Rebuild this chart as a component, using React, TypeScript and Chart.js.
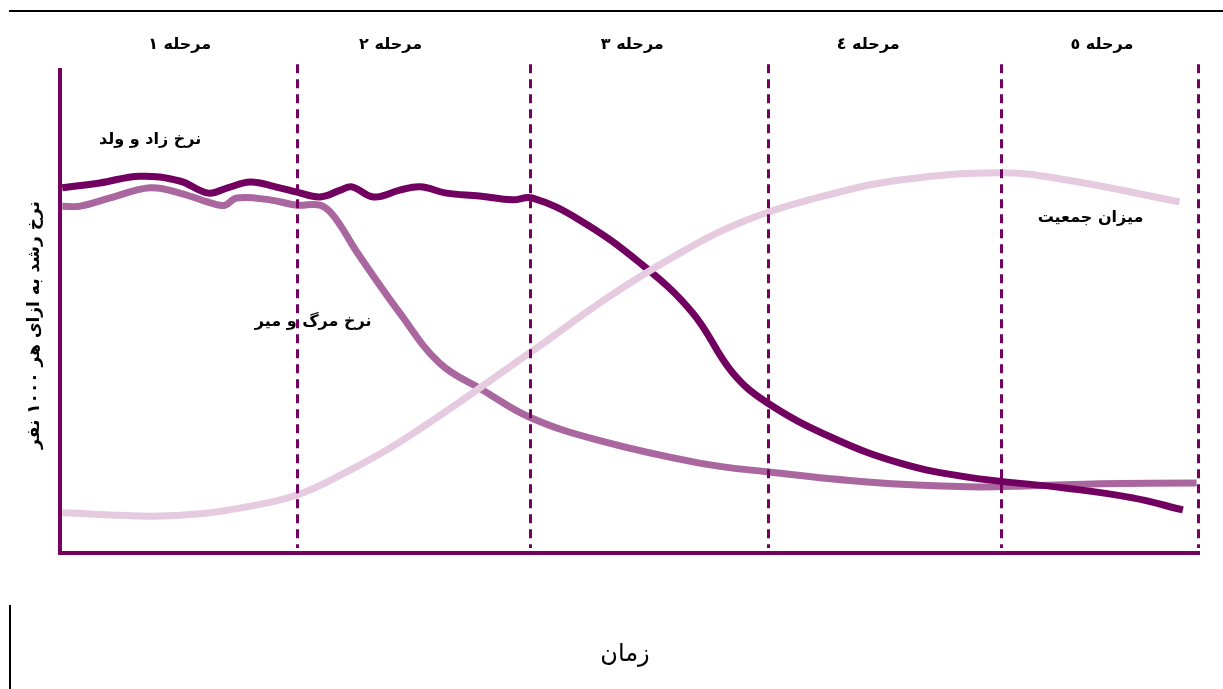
import React, { useEffect, useRef } from "react";
import { Chart, registerables } from "chart.js";

Chart.register(...registerables);

// ---- data (time 0..100, rate 0..100) ----
const birthX = [0.2, 3.5, 7.0, 10.5, 13.0, 14.7, 16.7, 18.9, 20.8, 22.8, 24.6, 25.6, 27.5, 29.8, 31.6, 33.9, 36.8, 39.7, 41.4, 45.6, 50.9, 55.5, 59.0, 62.1, 67.8, 73.7, 79.6, 88.3, 94.1, 98.5];
const birthY = [75.2, 76.2, 77.6, 76.6, 74.1, 75.2, 76.4, 75.4, 74.3, 73.3, 74.7, 75.4, 73.3, 74.7, 75.4, 74.1, 73.5, 72.7, 73.1, 68.5, 59.6, 49.3, 36.9, 30.6, 23.4, 18.2, 15.3, 13.0, 11.0, 8.5];

const deathX = [0.2, 1.8, 4.4, 7.9, 10.5, 13.6, 14.5, 15.5, 18.4, 20.8, 22.8, 24.0, 26.1, 29.8, 33.3, 37.1, 41.2, 47.1, 56.1, 62.0, 70.8, 79.6, 85.4, 91.2, 99.7];
const deathY = [71.4, 71.4, 73.1, 75.2, 74.1, 71.8, 71.6, 73.1, 72.7, 71.6, 71.6, 69.4, 61.7, 49.3, 38.9, 33.3, 27.7, 23.0, 18.2, 16.4, 14.3, 13.3, 13.5, 13.9, 14.1];

const popX = [0.2, 7.9, 12.3, 16.7, 20.8, 24.6, 30.1, 41.2, 48.0, 53.8, 59.6, 66.7, 73.7, 82.5, 88.3, 98.2];
const popY = [7.9, 7.2, 7.7, 9.3, 11.6, 15.7, 23.0, 41.0, 52.4, 60.9, 67.9, 73.3, 76.8, 78.3, 76.8, 72.3];

const stageBounds = [20.8, 41.2, 62.1, 82.5, 99.8];
const stageLabels = ["مرحله ۱", "مرحله ۲", "مرحله ۳", "مرحله ٤", "مرحله ٥"];
const stageLabelX = [10.5, 29.0, 50.2, 70.9, 91.4];

const seriesLabels = ["نرخ زاد و ولد", "نرخ مرگ و میر", "میزان جمعیت"];
const seriesLabelX = [7.9, 22.2, 90.4];
const seriesLabelY = [85.1, 47.4, 68.9];

const yTitle = "نرخ رشد به ازای هر ۱۰۰۰ نفر";
const xTitle = "زمان";

const DARK = "#720061";
const MID = "#aa669f";
const LIGHT = "#e5cae0";
const AXIS = "#74005f";

const toPts = (xs: number[], ys: number[]) => xs.map((x, i) => ({ x, y: ys[i] }));

const decor = {
  id: "decor",
  afterDatasetsDraw(chart: any) {
    const { ctx, scales } = chart;
    const x = scales.x;
    const y = scales.y;
    ctx.save();
    // dashed stage lines
    ctx.strokeStyle = AXIS;
    ctx.lineWidth = 3;
    ctx.setLineDash([9, 6]);
    stageBounds.forEach((b) => {
      const px = Math.round(x.getPixelForValue(b)) + 0.5;
      ctx.beginPath();
      ctx.moveTo(px, y.getPixelForValue(100.8));
      ctx.lineTo(px, y.getPixelForValue(0.6));
      ctx.stroke();
    });
    ctx.setLineDash([]);
    // axes
    ctx.lineWidth = 4;
    ctx.beginPath();
    ctx.moveTo(x.getPixelForValue(0), y.getPixelForValue(100));
    ctx.lineTo(x.getPixelForValue(0), y.getPixelForValue(0) + 2);
    ctx.lineTo(x.getPixelForValue(100), y.getPixelForValue(0) + 2);
    ctx.stroke();
    // frame lines
    ctx.strokeStyle = "#000";
    ctx.lineWidth = 2;
    ctx.beginPath();
    ctx.moveTo(9, 11);
    ctx.lineTo(1223, 11);
    ctx.moveTo(10, 605);
    ctx.lineTo(10, 689);
    ctx.stroke();
    // texts
    ctx.fillStyle = "#000";
    ctx.direction = "rtl";
    ctx.textAlign = "center";
    ctx.textBaseline = "middle";
    ctx.font = "bold 16px 'DejaVu Sans'";
    stageLabels.forEach((t, i) => {
      ctx.fillText(t, x.getPixelForValue(stageLabelX[i]), y.getPixelForValue(104.8));
    });
    seriesLabels.forEach((t, i) => {
      ctx.fillText(t, x.getPixelForValue(seriesLabelX[i]), y.getPixelForValue(seriesLabelY[i]));
    });
    // y title
    ctx.save();
    ctx.font = "bold 17px 'DejaVu Sans'";
    ctx.translate(35, 325);
    ctx.rotate(-Math.PI / 2);
    ctx.fillText(yTitle, 0, 0);
    ctx.restore();
    // x title
    ctx.font = "24px 'DejaVu Serif', 'DejaVu Sans'";
    ctx.fillText(xTitle, 625, 655);
    ctx.restore();
  },
};

export default function App() {
  const ref = useRef<HTMLCanvasElement | null>(null);
  useEffect(() => {
    document.body.style.margin = "0";
    const canvas = ref.current;
    if (!canvas) return;
    const line = (data: any, color: string, width: number, order: number) => ({
      data,
      borderColor: color,
      borderWidth: width,
      pointRadius: 0,
      tension: 0.4,
      fill: false,
      order,
      borderCapStyle: "butt",
      borderJoinStyle: "round",
    });
    const chart = new Chart(canvas, {
      type: "line",
      data: {
        datasets: [
          line(toPts(popX, popY), LIGHT, 7, 0),
          line(toPts(birthX, birthY), DARK, 7, 1),
          line(toPts(deathX, deathY), MID, 7, 2),
        ] as any,
      },
      options: {
        animation: false,
        responsive: false,
        maintainAspectRatio: false,
        layout: { padding: { left: 60, right: 23, top: 68, bottom: 138 } },
        plugins: { legend: { display: false }, tooltip: { enabled: false } },
        scales: {
          x: { type: "linear", min: 0, max: 100, display: false },
          y: { type: "linear", min: 0, max: 100, display: false },
        },
      },
      plugins: [decor],
    });
    return () => chart.destroy();
  }, []);
  return (
    <div style={{ width: 1223, height: 689 }}>
      <canvas ref={ref} width={1223} height={689} style={{ display: "block" }} />
    </div>
  );
}
